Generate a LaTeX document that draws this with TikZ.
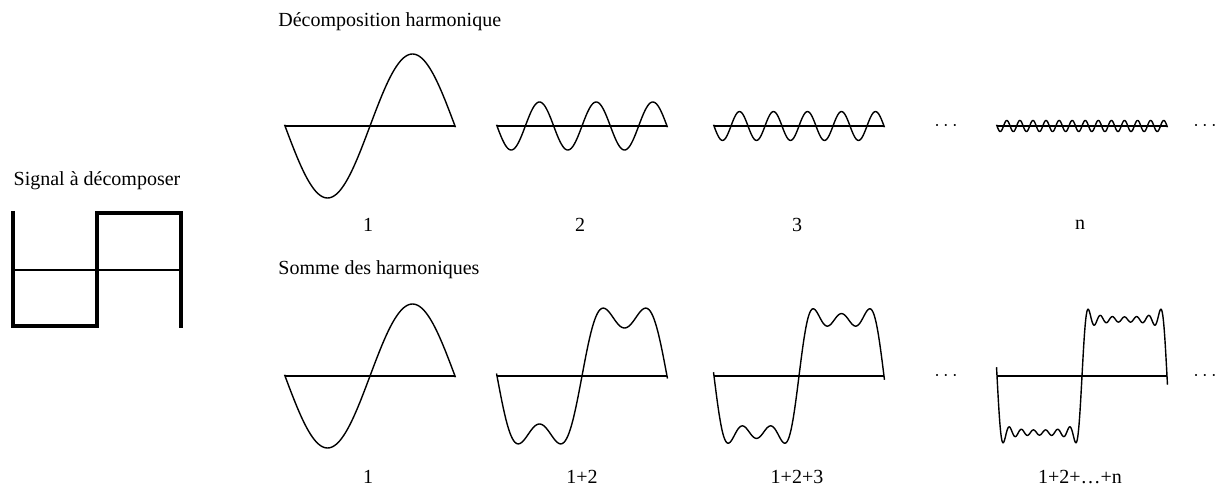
\documentclass[tikz,border=0pt]{standalone}
\usepackage{fontspec}
\setmainfont{Liberation Serif}
\usetikzlibrary{positioning}
\tikzset{
  x=0.5pt, y=-0.5pt, % one unit is one pixel of the layout
  headtext/.style={anchor=west, inner sep=0pt, font=\fontsize{10}{12}\selectfont},
  numtext/.style={inner sep=0pt, font=\fontsize{10}{12}\selectfont},
  axis/.style={line width=0.8pt},
  wave/.style={line width=0.7pt, smooth},
  signal/.style={line width=1.6pt},
}

\begin{document}
\begin{tikzpicture}
    \useasboundingbox (0,0) rectangle (1215,486);

    % signal to decompose
    \node[numtext] (sig_title) at (97,181) {Signal à décomposer};
    \draw[axis] (13,270) -- (181,270);
    \draw[signal] (13,211) -- (13,326) -- (97,326) -- (97,213) -- (181,213) -- (181,328);

    % harmonics, one per plot
    \node[headtext] (harm_title) at (278,22) {Décomposition harmonique};
    \foreach \xo/\k/\lab in {285/1/1, 497/3/2, 714/5/3, 997/13/n}{
      \draw[axis] (\xo,126) -- (\xo+170,126);
      \draw[wave] plot[domain=-1:361, samples=40*\k+60] ({\xo+\x/360*170}, {126+72*sin(\k*\x)/\k});
      \node[numtext] (harm_\lab) at (\xo+83,225) {\lab};
    }
    \node[numtext] (harm_dots_a) at (946,126) {$\cdots$};
    \node[numtext] (harm_dots_b) at (1205,126) {$\cdots$};

    % partial sums
    \node[headtext] (sum_title) at (278,270) {Somme des harmoniques};
    \foreach \xo in {285, 497, 714, 997}
      \draw[axis] (\xo,376) -- (\xo+170,376);
    \draw[wave] plot[domain=-1:361, samples=100] ({285+\x/360*170}, {376+72*sin(\x)});
    \draw[wave] plot[domain=-1:361, samples=160] ({497+\x/360*170},
      {376+72*(sin(\x)+sin(3*\x)/3)});
    \draw[wave] plot[domain=-1:361, samples=220] ({714+\x/360*170},
      {376+72*(sin(\x)+sin(3*\x)/3+sin(5*\x)/5)});
    \draw[wave] plot[domain=-1:361, samples=420] ({997+\x/360*170},
      {376+72*(sin(\x)+sin(3*\x)/3+sin(5*\x)/5+sin(7*\x)/7+sin(9*\x)/9+sin(11*\x)/11+sin(13*\x)/13)});
    \node[numtext] (sum_1) at (368,477) {1};
    \node[numtext] (sum_2) at (582,477) {1+2};
    \node[numtext] (sum_3) at (797,477) {1+2+3};
    \node[numtext] (sum_n) at (1080,477) {1+2+\dots+n};
    \node[numtext] (sum_dots_a) at (946,376) {$\cdots$};
    \node[numtext] (sum_dots_b) at (1205,376) {$\cdots$};
\end{tikzpicture}
\end{document}
